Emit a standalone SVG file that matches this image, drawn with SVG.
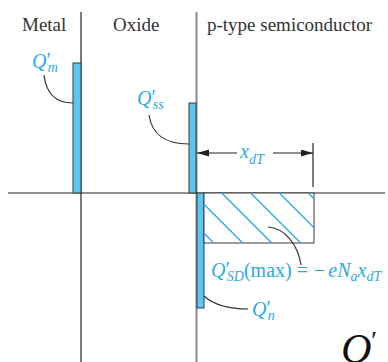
<svg xmlns="http://www.w3.org/2000/svg" width="388" height="362" viewBox="0 0 388 362">
<style>
.hdr{font-family:"Liberation Serif","Times New Roman",serif;font-size:19px;fill:#333}
.lbl{font-family:"Liberation Serif","Times New Roman",serif;font-size:20px;fill:#29ABE2;font-style:italic}
.up{font-style:normal}
.sub{font-size:14px}
.bar{fill:#5CC6F2;stroke:#3a3a3a;stroke-width:1}
.ax{stroke:#222;stroke-width:1.2;fill:none}
.lead{stroke:#333;stroke-width:1.2;fill:none}
.hatch{stroke:#29ABE2;stroke-width:1.3}
</style>
<defs>
<marker id="ah" markerUnits="userSpaceOnUse" markerWidth="12" markerHeight="8" refX="12" refY="3.5" orient="auto-start-reverse">
<path d="M0,0 L12,3.5 L0,7 z" fill="#222"/>
</marker>
</defs>

<g id="axes">
<line class="ax" x1="81" y1="12" x2="81" y2="362"/>
<line x1="196.5" y1="12" x2="196.5" y2="362" stroke="#8a8a8a" stroke-width="2"/>
<line class="ax" x1="8" y1="193" x2="385" y2="193"/>
</g>

<g id="headers">
<text class="hdr" x="22" y="31">Metal</text>
<text class="hdr" x="113" y="31">Oxide</text>
<text class="hdr" x="207" y="31">p-type semiconductor</text>
</g>

<g id="Qm-bar"><rect class="bar" x="73" y="63" width="8" height="130"/></g>
<g id="Qss-bar"><rect class="bar" x="189" y="103" width="7" height="90"/></g>
<g id="Qn-bar"><rect class="bar" x="197" y="193" width="7" height="115"/></g>

<g id="QSD-region">
<rect x="204" y="193" width="110" height="50" fill="#fff" stroke="#3a3a3a" stroke-width="1"/>
<line class="hatch" x1="204" y1="233.3" x2="213.7" y2="243"/>
<line class="hatch" x1="204" y1="204.3" x2="242.7" y2="243"/>
<line class="hatch" x1="221.7" y1="193" x2="271.7" y2="243"/>
<line class="hatch" x1="250.7" y1="193" x2="300.7" y2="243"/>
<line class="hatch" x1="279.3" y1="193" x2="314" y2="227.7"/>
<line class="hatch" x1="308.3" y1="193" x2="314" y2="198.7"/>
</g>

<g id="labels">
<text class="lbl" x="32" y="68">Q<tspan class="up" dy="-1">′</tspan><tspan class="sub" dx="-3" dy="5">m</tspan></text>
<text class="lbl" x="137" y="105">Q<tspan class="up" dy="-1">′</tspan><tspan class="sub" dx="-3" dy="5">ss</tspan></text>
<text class="lbl" x="240" y="158">x<tspan class="sub" dy="6">dT</tspan></text>
<text class="lbl" x="211" y="277">Q<tspan class="up" dy="-1">′</tspan><tspan class="sub" dx="-3" dy="5">SD</tspan><tspan class="up" dy="-4">(max) =</tspan><tspan class="up" dx="6">−</tspan><tspan dx="3">eN</tspan><tspan class="sub" dy="4">a</tspan><tspan dy="-4">x</tspan><tspan class="sub" dy="4">dT</tspan></text>
<text class="lbl" x="252" y="316">Q<tspan class="up" dy="-1">′</tspan><tspan class="sub" dx="-3" dy="5">n</tspan></text>
</g>

<g id="connectors">
<path class="lead" d="M44,75 C46,93 55,103 73,103"/>
<path class="lead" d="M149,115 C152,135 165,144 189,144"/>
<path class="lead" d="M268,227 C285,228 298,245 301,265"/>
<path class="lead" d="M204,296 C215,306 230,309 248,309"/>
<line class="ax" x1="197" y1="153" x2="237" y2="153" marker-start="url(#ah)"/>
<line class="ax" x1="273" y1="153" x2="313" y2="153" marker-end="url(#ah)"/>
<line class="ax" x1="313" y1="143" x2="313" y2="187"/>
</g>

<g id="bigQ">
<text x="341" y="363" font-family="'Liberation Serif','Times New Roman',serif" font-style="italic" font-size="42" fill="#111">Q<tspan font-size="26" dy="-14" font-style="normal">′</tspan></text>
</g>
</svg>
